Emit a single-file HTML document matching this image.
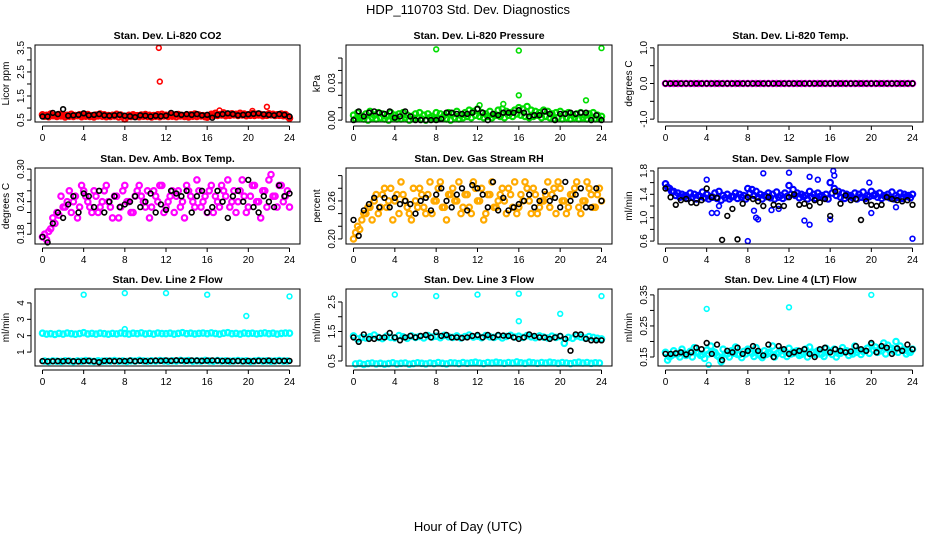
<!DOCTYPE html>
<html><head><meta charset="utf-8"><style>
html,body{margin:0;padding:0;background:#fff;}
svg{display:block;font-family:"Liberation Sans",sans-serif;}
</style></head><body>
<svg id="c" width="936" height="540" viewBox="0 0 936 540">
<text x="468" y="14" text-anchor="middle" font-size="13">HDP_110703  Std. Dev. Diagnostics</text>
<text x="468" y="531" text-anchor="middle" font-size="13">Hour of Day (UTC)</text>
</svg>
<script>
// x grid categories (hours)
const hoursA = [0,0.4,0.8,1.2,1.6,2,2.4,2.8,3.2,3.6,4,4.4,4.8,5.2,5.6,6,6.4,6.8,7.2,7.6,8,8.4,8.8,9.2,9.6,10,10.4,10.8,11.2,11.6,12,12.4,12.8,13.2,13.6,14,14.4,14.8,15.2,15.6,16,16.4,16.8,17.2,17.6,18,18.4,18.8,19.2,19.6,20,20.4,20.8,21.2,21.6,22,22.4,22.8,23.2,23.6,24];
const hoursB = [0.2,0.6,1,1.4,1.8,2.2,2.6,3,3.4,3.8,4.2,4.6,5,5.4,5.8,6.2,6.6,7,7.4,7.8,8.2,8.6,9,9.4,9.8,10.2,10.6,11,11.4,11.8,12.2,12.6,13,13.4,13.8,14.2,14.6,15,15.4,15.8,16.2,16.6,17,17.4,17.8,18.2,18.6,19,19.4,19.8,20.2,20.6,21,21.4,21.8,22.2,22.6,23,23.4,23.8];
const hoursK = [0,0.5,1,1.5,2,2.5,3,3.5,4,4.5,5,5.5,6,6.5,7,7.5,8,8.5,9,9.5,10,10.5,11,11.5,12,12.5,13,13.5,14,14.5,15,15.5,16,16.5,17,17.5,18,18.5,19,19.5,20,20.5,21,21.5,22,22.5,23,23.5,24];
const xTicks = [0,4,8,12,16,20,24];

// Panel 1: CO2
const co2A = [0.72,0.70,0.75,0.68,0.73,0.71,0.70,0.74,0.69,0.72,0.70,0.73,0.68,0.71,0.75,0.72,0.69,0.70,0.74,0.71,0.55,0.70,0.72,0.68,0.71,0.73,0.70,0.69,0.72,0.74,0.70,0.72,0.71,0.73,0.69,0.70,0.72,0.75,0.71,0.68,0.62,0.74,0.78,0.73,0.80,0.72,0.76,0.74,0.78,0.75,0.72,0.77,0.74,0.73,0.71,0.76,0.74,0.72,0.75,0.73,0.58];
const co2B = [0.66,0.64,0.68,0.65,0.67,0.63,0.66,0.65,0.68,0.64,0.66,0.65,0.63,0.67,0.66,0.64,0.65,0.67,0.63,0.66,0.64,0.65,0.67,0.64,0.66,0.65,0.63,0.66,0.64,0.67,0.65,0.66,0.64,0.67,0.65,0.63,0.66,0.65,0.67,0.64,0.68,0.70,0.69,0.71,0.68,0.70,0.72,0.69,0.71,0.68,0.70,0.69,0.71,0.68,0.70,0.72,0.69,0.70,0.68,0.66];
const co2K = [0.65,0.65,0.80,0.75,0.95,0.68,0.70,0.72,0.78,0.70,0.72,0.75,0.70,0.68,0.70,0.72,0.68,0.66,0.62,0.70,0.68,0.65,0.68,0.66,0.68,0.80,0.75,0.72,0.75,0.72,0.75,0.70,0.72,0.60,0.72,0.75,0.78,0.75,0.70,0.72,0.74,0.76,0.78,0.74,0.72,0.70,0.75,0.72,0.65];
const co2OutX = [11.3,11.4,21.8,17.2,20.4];
const co2OutY = [3.5,2.1,1.05,0.9,0.88];

// Panel 2: Pressure
const prsA = [0.004,0.006,0.003,0.005,0.007,0.004,0.006,0.005,0.003,0.006,0.004,0.005,0.006,0.004,0.003,0.005,0.006,0.004,0.005,0.003,0.006,0.005,0.004,0.006,0.005,0.007,0.004,0.006,0.008,0.007,0.009,0.006,0.005,0.007,0.004,0.008,0.009,0.007,0.006,0.008,0.010,0.009,0.011,0.008,0.007,0.006,0.008,0.007,0.005,0.006,0.007,0.005,0.006,0.004,0.005,0.006,0.004,0.005,0.006,0.004,0.003];
const prsB = [0.001,0.002,0.001,0.000,0.002,0.001,0.002,0.001,0.000,0.002,0.001,0.001,0.002,0.000,0.001,0.002,0.001,0.000,0.002,0.001,0.001,0.002,0.001,0.000,0.002,0.001,0.002,0.003,0.002,0.004,0.003,0.002,0.003,0.002,0.004,0.003,0.002,0.004,0.003,0.005,0.004,0.003,0.002,0.003,0.004,0.002,0.003,0.002,0.001,0.002,0.001,0.002,0.001,0.002,0.001,0.002,0.001,0.002,0.001,0.001];
const prsK = [0.000,0.007,0.003,0.006,0.007,0.006,0.005,0.007,0.002,0.003,0.007,0.003,0.000,0.000,0.000,0.000,0.000,0.001,0.006,0.006,0.005,0.005,0.005,0.006,0.009,0.006,0.000,0.005,0.004,0.006,0.006,0.006,0.008,0.006,0.003,0.004,0.004,0.007,0.005,0.000,0.005,0.005,0.006,0.005,0.006,0.006,0.000,0.004,0.000];
const prsOutX = [8,16,24,16,22.5,12.2,14.5];
const prsOutY = [0.057,0.056,0.058,0.020,0.016,0.012,0.013];

// Panel 3: Li-820 Temp
const tmpA = [0,0,0,0,0,0,0,0,0,0,0,0,0,0,0,0,0,0,0,0,0,0,0,0,0,0,0,0,0,0,0,0,0,0,0,0,0,0,0,0,0,0,0,0,0,0,0,0,0,0,0,0,0,0,0,0,0,0,0,0,0];
const tmpK = [0,0,0,0,0,0,0,0,0,0,0,0,0,0,0,0,0,0,0,0,0,0,0,0,0,0,0,0,0,0,0,0,0,0,0,0,0,0,0,0,0,0,0,0,0,0,0,0,0];

// Panel 4: Amb box temp
const ambA = [0.175,0.17,0.19,0.20,0.215,0.23,0.24,0.22,0.25,0.23,0.26,0.24,0.22,0.25,0.23,0.26,0.24,0.21,0.25,0.23,0.27,0.24,0.22,0.26,0.25,0.23,0.21,0.26,0.24,0.27,0.23,0.25,0.22,0.26,0.24,0.27,0.25,0.23,0.26,0.24,0.22,0.27,0.25,0.23,0.26,0.28,0.24,0.22,0.26,0.25,0.23,0.27,0.24,0.21,0.26,0.28,0.25,0.23,0.27,0.25,0.23];
const ambB = [0.18,0.185,0.21,0.22,0.25,0.23,0.26,0.24,0.21,0.27,0.25,0.23,0.26,0.22,0.24,0.27,0.23,0.25,0.21,0.26,0.24,0.22,0.25,0.27,0.24,0.26,0.23,0.25,0.27,0.22,0.24,0.26,0.25,0.23,0.21,0.26,0.24,0.28,0.23,0.25,0.26,0.22,0.24,0.27,0.25,0.23,0.26,0.24,0.28,0.22,0.25,0.27,0.24,0.26,0.23,0.29,0.25,0.27,0.24,0.26];
const ambK = [0.175,0.165,0.20,0.22,0.21,0.235,0.25,0.22,0.255,0.25,0.23,0.26,0.22,0.24,0.25,0.23,0.235,0.24,0.25,0.23,0.24,0.255,0.22,0.235,0.225,0.26,0.255,0.25,0.26,0.22,0.25,0.26,0.22,0.23,0.26,0.24,0.21,0.25,0.26,0.24,0.28,0.23,0.22,0.25,0.24,0.23,0.27,0.25,0.255];

// Panel 5: RH
const rhA = [0.20,0.22,0.23,0.24,0.25,0.26,0.24,0.27,0.25,0.28,0.26,0.24,0.27,0.25,0.23,0.26,0.28,0.25,0.27,0.24,0.26,0.29,0.25,0.27,0.28,0.26,0.24,0.27,0.25,0.29,0.26,0.28,0.24,0.27,0.25,0.26,0.28,0.24,0.27,0.29,0.25,0.26,0.28,0.24,0.27,0.25,0.26,0.29,0.27,0.24,0.28,0.26,0.25,0.27,0.29,0.24,0.26,0.28,0.25,0.27,0.26];
const rhB = [0.21,0.215,0.24,0.25,0.23,0.27,0.25,0.28,0.26,0.23,0.27,0.29,0.26,0.24,0.28,0.25,0.27,0.24,0.29,0.26,0.28,0.25,0.23,0.27,0.26,0.29,0.25,0.27,0.24,0.28,0.26,0.23,0.27,0.29,0.25,0.27,0.26,0.28,0.25,0.24,0.27,0.29,0.26,0.28,0.24,0.26,0.27,0.25,0.28,0.29,0.26,0.24,0.27,0.28,0.25,0.26,0.29,0.27,0.25,0.28];
const rhK = [0.23,0.205,0.245,0.255,0.265,0.25,0.265,0.25,0.265,0.255,0.26,0.255,0.24,0.26,0.265,0.245,0.27,0.28,0.26,0.25,0.27,0.28,0.245,0.285,0.28,0.27,0.25,0.29,0.245,0.265,0.245,0.25,0.255,0.26,0.27,0.25,0.26,0.275,0.26,0.265,0.25,0.29,0.26,0.27,0.28,0.25,0.25,0.28,0.26];

// Panel 6: Sample flow
const sfA = [1.58,1.50,1.45,1.42,1.40,1.38,1.42,1.40,1.38,1.44,1.40,1.36,1.42,1.45,1.38,1.40,1.36,1.42,1.40,1.38,1.50,1.48,1.45,1.40,1.38,1.42,1.40,1.44,1.38,1.42,1.55,1.48,1.42,1.40,1.38,1.45,1.40,1.42,1.38,1.40,1.60,1.50,1.45,1.42,1.40,1.38,1.42,1.40,1.44,1.38,1.45,1.40,1.42,1.38,1.40,1.44,1.38,1.42,1.40,1.38,1.40];
const sfB = [1.52,1.45,1.38,1.35,1.36,1.33,1.35,1.32,1.36,1.34,1.32,1.35,1.33,1.30,1.34,1.32,1.36,1.33,1.35,1.32,1.42,1.38,1.35,1.32,1.36,1.34,1.32,1.35,1.33,1.36,1.40,1.38,1.34,1.36,1.32,1.35,1.33,1.36,1.34,1.32,1.42,1.38,1.35,1.33,1.36,1.34,1.32,1.35,1.33,1.36,1.38,1.35,1.33,1.36,1.34,1.32,1.35,1.33,1.36,1.34];
const sfK = [1.50,1.35,1.22,1.30,1.32,1.26,1.25,1.30,1.50,1.35,1.34,0.62,1.03,1.15,0.63,1.24,1.35,1.32,1.28,1.20,1.35,1.22,1.20,1.20,1.35,1.40,1.22,1.24,1.20,1.30,1.26,1.32,1.03,1.45,1.24,1.38,1.30,1.32,0.96,1.28,1.22,1.20,1.22,1.35,1.32,1.30,1.28,1.30,1.22];
const sfOutX = [4,4.5,5,5.2,8,8.6,8.8,9,9.5,10.3,12,13.5,14,14,14.8,16,16.3,16.4,19.8,20,22.4,24,11];
const sfOutY = [1.65,1.08,1.08,1.2,0.6,1.12,1.0,0.97,1.76,1.13,1.77,0.95,0.88,1.7,1.65,0.97,1.8,1.72,1.6,1.08,1.18,0.64,1.15];

// Panel 7: Line 2 flow
const l2A = [2.15,2.10,2.12,2.08,2.14,2.10,2.16,2.12,2.09,2.13,2.18,2.11,2.14,2.10,2.15,2.12,2.09,2.14,2.11,2.16,2.13,2.10,2.15,2.12,2.17,2.11,2.14,2.10,2.16,2.13,2.12,2.15,2.10,2.14,2.18,2.12,2.15,2.11,2.14,2.16,2.12,2.17,2.13,2.10,2.15,2.18,2.12,2.14,2.10,2.16,2.13,2.15,2.11,2.14,2.17,2.12,2.15,2.10,2.14,2.16,2.15];
const l2B = [0.45,0.42,0.46,0.44,0.43,0.47,0.45,0.42,0.46,0.44,0.48,0.45,0.43,0.47,0.44,0.46,0.45,0.48,0.44,0.46,0.43,0.47,0.45,0.49,0.46,0.44,0.47,0.45,0.48,0.46,0.44,0.47,0.45,0.49,0.46,0.48,0.44,0.47,0.45,0.49,0.46,0.44,0.48,0.45,0.47,0.44,0.46,0.48,0.45,0.47,0.43,0.46,0.48,0.45,0.47,0.44,0.46,0.48,0.45,0.46];
const l2K = [0.45,0.43,0.44,0.45,0.44,0.46,0.44,0.43,0.45,0.47,0.44,0.38,0.46,0.47,0.44,0.46,0.45,0.48,0.44,0.47,0.45,0.46,0.48,0.47,0.49,0.47,0.50,0.48,0.47,0.49,0.48,0.47,0.48,0.49,0.48,0.46,0.47,0.45,0.46,0.44,0.46,0.45,0.47,0.46,0.48,0.45,0.46,0.47,0.46];
const l2OutX = [4,8,12,16,19.8,24,8];
const l2OutY = [4.5,4.6,4.6,4.5,3.2,4.4,2.4];

// Panel 8: Line 3 flow
const l3A = [1.35,1.25,1.30,1.28,1.32,1.38,1.30,1.26,1.34,1.30,1.28,1.36,1.32,1.27,1.35,1.30,1.33,1.28,1.36,1.31,1.34,1.29,1.37,1.32,1.30,1.35,1.28,1.33,1.38,1.31,1.34,1.29,1.36,1.32,1.30,1.35,1.28,1.33,1.37,1.31,1.34,1.30,1.36,1.32,1.29,1.35,1.31,1.28,1.34,1.30,1.33,1.10,1.30,1.27,1.35,1.31,1.28,1.33,1.30,1.27,1.25];
const l3B = [0.40,0.42,0.38,0.41,0.43,0.40,0.42,0.39,0.41,0.44,0.40,0.42,0.43,0.39,0.41,0.44,0.42,0.40,0.43,0.41,0.45,0.42,0.40,0.44,0.43,0.41,0.45,0.42,0.44,0.46,0.43,0.41,0.45,0.43,0.46,0.44,0.42,0.45,0.43,0.47,0.44,0.42,0.46,0.44,0.42,0.45,0.43,0.46,0.44,0.42,0.45,0.43,0.41,0.44,0.46,0.43,0.45,0.42,0.44,0.43];
const l3K = [1.30,1.15,1.40,1.25,1.25,1.30,1.30,1.45,1.30,1.20,1.30,1.35,1.30,1.35,1.38,1.30,1.48,1.35,1.38,1.30,1.30,1.28,1.30,1.35,1.38,1.30,1.38,1.30,1.38,1.36,1.35,1.30,1.25,1.30,1.40,1.35,1.30,1.30,1.25,1.30,1.35,1.25,0.85,1.40,1.40,1.25,1.20,1.20,1.20];
const l3OutX = [4,8,12,16,16,20,24];
const l3OutY = [2.75,2.7,2.75,2.78,1.85,2.1,2.7];

// Panel 9: Line 4 flow
const l4A = [0.165,0.150,0.170,0.160,0.175,0.155,0.168,0.180,0.162,0.158,0.172,0.185,0.165,0.150,0.175,0.160,0.170,0.182,0.158,0.168,0.175,0.162,0.180,0.155,0.170,0.165,0.185,0.160,0.172,0.168,0.178,0.162,0.170,0.158,0.175,0.182,0.165,0.170,0.160,0.178,0.168,0.175,0.162,0.180,0.170,0.165,0.185,0.172,0.168,0.178,0.190,0.182,0.175,0.195,0.188,0.178,0.200,0.185,0.172,0.168,0.175];
const l4B = [0.140,0.155,0.160,0.150,0.162,0.158,0.150,0.165,0.155,0.145,0.160,0.168,0.155,0.135,0.160,0.150,0.162,0.158,0.148,0.160,0.165,0.152,0.160,0.148,0.158,0.162,0.150,0.165,0.158,0.152,0.160,0.168,0.155,0.162,0.150,0.165,0.158,0.160,0.152,0.165,0.158,0.150,0.162,0.168,0.155,0.160,0.165,0.158,0.170,0.162,0.172,0.165,0.170,0.160,0.175,0.168,0.165,0.172,0.160,0.165];
const l4K = [0.160,0.160,0.162,0.165,0.158,0.165,0.180,0.175,0.195,0.160,0.190,0.140,0.170,0.165,0.180,0.160,0.170,0.185,0.170,0.155,0.190,0.150,0.185,0.175,0.160,0.165,0.170,0.175,0.160,0.150,0.175,0.180,0.165,0.175,0.170,0.165,0.168,0.185,0.175,0.170,0.195,0.165,0.185,0.180,0.160,0.178,0.170,0.190,0.175];
const l4OutX = [4,12,20,4.2];
const l4OutY = [0.305,0.31,0.35,0.125];

const panels = [
 {name:'co2',title:'Stan. Dev. Li-820 CO2',ylab:'Licor ppm',L:35,R:300,T:45,B:122,ymin:0.42,ymax:3.62,ticks:[0.5,1.5,2.5,3.5],lab:['0.5','1.5','2.5','3.5'],minor:[1,2,3],col:'#ff0000',A:co2A,Bv:co2B,K:co2K,ox:co2OutX,oy:co2OutY},
 {name:'pressure',title:'Stan. Dev. Li-820 Pressure',ylab:'kPa',L:346,R:612,T:45,B:122,ymin:-0.0015,ymax:0.0605,ticks:[0,0.03],lab:['0.00','0.03'],minor:[0.01,0.02,0.04,0.05],col:'#00dd00',A:prsA,Bv:prsB,K:prsK,ox:prsOutX,oy:prsOutY},
 {name:'li820-temp',title:'Stan. Dev. Li-820 Temp.',ylab:'degrees C',L:658,R:923,T:45,B:122,ymin:-1.08,ymax:1.08,ticks:[-1,0,1],lab:['-1.0','0.0','1.0'],minor:[-0.5,0.5],col:'#ff00ff',A:tmpA,Bv:null,K:tmpK,ox:[],oy:[]},
 {name:'amb-box-temp',title:'Stan. Dev. Amb. Box Temp.',ylab:'degrees C',L:35,R:300,T:168,B:244,ymin:0.162,ymax:0.302,ticks:[0.18,0.24,0.30],lab:['0.18','0.24','0.30'],minor:[0.20,0.22,0.26,0.28],col:'#ff00ff',A:ambA,Bv:ambB,K:ambK,ox:[],oy:[]},
 {name:'gas-stream-rh',title:'Stan. Dev. Gas Stream RH',ylab:'percent',L:346,R:612,T:168,B:244,ymin:0.192,ymax:0.312,ticks:[0.20,0.26],lab:['0.20','0.26'],minor:[0.22,0.24,0.28,0.30],col:'#ffaa00',A:rhA,Bv:rhB,K:rhK,ox:[],oy:[]},
 {name:'sample-flow',title:'Stan. Dev. Sample Flow',ylab:'ml/min',L:658,R:923,T:168,B:244,ymin:0.55,ymax:1.85,ticks:[0.6,1.0,1.4,1.8],lab:['0.6','1.0','1.4','1.8'],minor:[0.8,1.2,1.6],col:'#0000ff',A:sfA,Bv:sfB,K:sfK,ox:sfOutX,oy:sfOutY},
 {name:'line2-flow',title:'Stan. Dev. Line 2 Flow',ylab:'ml/min',L:35,R:300,T:289,B:366,ymin:0.15,ymax:4.85,ticks:[1,2,3,4],lab:['1','2','3','4'],minor:[],col:'#00ffff',A:l2A,Bv:l2B,K:l2K,ox:l2OutX,oy:l2OutY},
 {name:'line3-flow',title:'Stan. Dev. Line 3 Flow',ylab:'ml/min',L:346,R:612,T:289,B:366,ymin:0.33,ymax:2.94,ticks:[0.5,1.5,2.5],lab:['0.5','1.5','2.5'],minor:[1,2],col:'#00ffff',A:l3A,Bv:l3B,K:l3K,ox:l3OutX,oy:l3OutY},
 {name:'line4-flow',title:'Stan. Dev. Line 4 (LT) Flow',ylab:'ml/min',L:658,R:923,T:289,B:366,ymin:0.121,ymax:0.369,ticks:[0.15,0.25,0.35],lab:['0.15','0.25','0.35'],minor:[0.20,0.30],col:'#00ffff',A:l4A,Bv:l4B,K:l4K,ox:l4OutX,oy:l4OutY}
];

const svg = document.getElementById('c');
const NS = 'http://www.w3.org/2000/svg';
function mk(tag, attrs, parent){const e=document.createElementNS(NS,tag);for(const k in attrs)e.setAttribute(k,attrs[k]);parent.appendChild(e);return e;}

panels.forEach(p=>{
  const g = mk('g',{},svg);
  
  
  const x0 = p.L+7.5, x1 = p.R-10.5;
  const sx = h => x0 + (x1-x0)*h/24;
  const sy = v => p.B - (p.B-p.T)*(v-p.ymin)/(p.ymax-p.ymin);
  const t = mk('text',{x:(p.L+p.R)/2,y:p.T-6,'text-anchor':'middle','font-size':'10.5','font-weight':'bold'},g);
  t.textContent = p.title;
  
  
  const yl = mk('text',{x:0,y:0,'text-anchor':'middle','font-size':'10',transform:`translate(${p.L-26},${(p.T+p.B)/2}) rotate(-90)`},g);
  yl.textContent = p.ylab;
  
  
  const pts = mk('g',{fill:'none'},g);
  
  
  const dot = (h,v,color,nm,r,sw)=>{
    const c = mk('circle',{cx:sx(h).toFixed(1),cy:sy(v).toFixed(1),r:r,stroke:color,'stroke-width':sw},pts);
    
    
  };
  if(p.Bv) p.Bv.forEach((v,i)=>dot(hoursB[i],v,p.col,'colored-point',2.7,2.2));
  p.A.forEach((v,i)=>dot(hoursA[i],v,p.col,'colored-point',2.7,2.2));
  p.ox.forEach((h,i)=>dot(h,p.oy[i],p.col,'outlier-point',2.4,1.6));
  p.K.forEach((v,i)=>dot(hoursK[i],v,'#000','black-point',2.4,1.6));
  const box = mk('rect',{x:p.L,y:p.T,width:p.R-p.L,height:p.B-p.T,fill:'none',stroke:'#000','stroke-width':'1'},g);
  
  
  const xa = mk('g',{},g);
  
  
  mk('line',{x1:sx(0),x2:sx(24),y1:p.B+4,y2:p.B+4,stroke:'#000'},xa);
  xTicks.forEach(h=>{
    mk('line',{x1:sx(h),x2:sx(h),y1:p.B+4,y2:p.B+8,stroke:'#000'},xa);
    const tl = mk('text',{x:sx(h),y:p.B+19,'text-anchor':'middle','font-size':'10'},xa);
    tl.textContent = h;
    
    
  });
  const ya = mk('g',{},g);
  
  
  const all = p.ticks.concat(p.minor);
  const ys = all.map(sy);
  mk('line',{x1:p.L-4,x2:p.L-4,y1:Math.min(...ys),y2:Math.max(...ys),stroke:'#000'},ya);
  all.forEach(v=>mk('line',{x1:p.L-8,x2:p.L-4,y1:sy(v),y2:sy(v),stroke:'#000'},ya));
  p.ticks.forEach((v,i)=>{
    const tl = mk('text',{x:0,y:0,'text-anchor':'middle','font-size':'10',transform:`translate(${p.L-11},${sy(v)}) rotate(-90)`},ya);
    tl.textContent = p.lab[i];
    
    
  });
});
</script>
</body></html>
